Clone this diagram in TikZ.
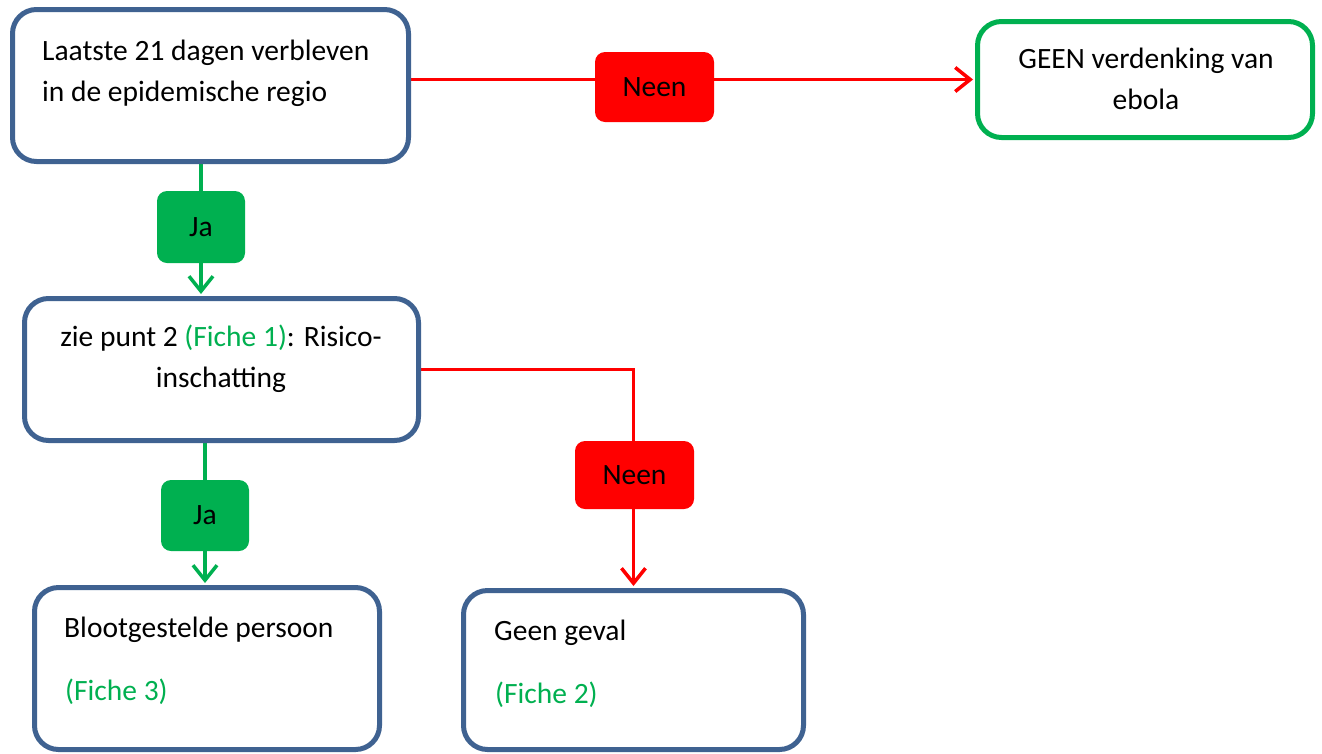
\documentclass[tikz,border=0pt]{standalone}
\usepackage{fontspec}
\setmainfont{Carlito}
\usetikzlibrary{arrows.meta,backgrounds}
\definecolor{boxblue}{RGB}{63,98,145}
\definecolor{okgreen}{RGB}{0,176,80}
\definecolor{nored}{RGB}{255,0,0}

\begin{document}
\begin{tikzpicture}[x=1pt,y=-1pt,
    box/.style={draw=boxblue,line width=5pt,rounded corners=24pt,inner sep=0pt,fill=white},
    endbox/.style={box,draw=okgreen},
    txt/.style={inner sep=0pt,font=\fontsize{29.5}{41}\selectfont},
    yesbox/.style={txt,fill=okgreen,rounded corners=10pt,minimum width=88pt,minimum height=72pt},
    nobox/.style={txt,fill=nored,rounded corners=10pt,minimum width=119pt,minimum height=70pt},
    yesline/.style={draw=okgreen,line width=3.5pt,shorten >=2pt,-{Straight Barb[length=15pt,width=24pt]}},
    noline/.style={draw=nored,line width=3.5pt,shorten >=2pt,-{Straight Barb[length=15pt,width=24pt]}}
]
\useasboundingbox (0,0) rectangle (1322,753);

% boxes
\node[box,minimum width=396pt,minimum height=152pt] (regio) at (210.5,85.5) {};
\node[endbox,minimum width=335pt,minimum height=116pt] (geen) at (1145,79.5) {};
\node[box,minimum width=394pt,minimum height=142pt] (risico) at (221.5,369.5) {};
\node[box,minimum width=345pt,minimum height=162pt] (bloot) at (207,668.5) {};
\node[box,minimum width=340pt,minimum height=159pt] (geval) at (633.5,670) {};

% texts (base = last line)
\node[txt,anchor=base west,align=left] (regiotxt) at (42,101) {Laatste 21 dagen verbleven\\in de epidemische regio};
\node[txt,anchor=base,align=center] (geentxt) at (1146,109) {GEEN verdenking van\\ebola};
\node[txt,anchor=base,align=center] (risicotxt) at (221,387) {zie punt 2 {\color{okgreen}(Fiche 1)}: Risico-\\inschatting};
\node[txt,anchor=base west] (blootnaam) at (64,637) {Blootgestelde persoon};
\node[txt,anchor=base west,text=okgreen] (fiche3) at (65,700) {(Fiche 3)};
\node[txt,anchor=base west] (gevalnaam) at (494,640) {Geen geval};
\node[txt,anchor=base west,text=okgreen] (fiche2) at (495,703) {(Fiche 2)};

% yes / no labels
\node[nobox] (neen1) at (654.5,87) {Neen};
\node[yesbox] (ja1) at (201,227) {Ja};
\node[nobox,minimum height=68pt] (neen2) at (634.5,475) {Neen};
\node[yesbox,minimum height=71pt] (ja2) at (205,515.5) {Ja};

\begin{scope}[on background layer]
\draw[noline] (regio.east |- geen.west) -- (geen.west);
\draw[yesline] (regio.south -| ja1) -- (risico.north -| ja1);
\draw[noline] (risico.east) -| (geval.north);
\draw[yesline] (risico.south -| ja2) -- (bloot.north -| ja2);
\end{scope}
\end{tikzpicture}
\end{document}
